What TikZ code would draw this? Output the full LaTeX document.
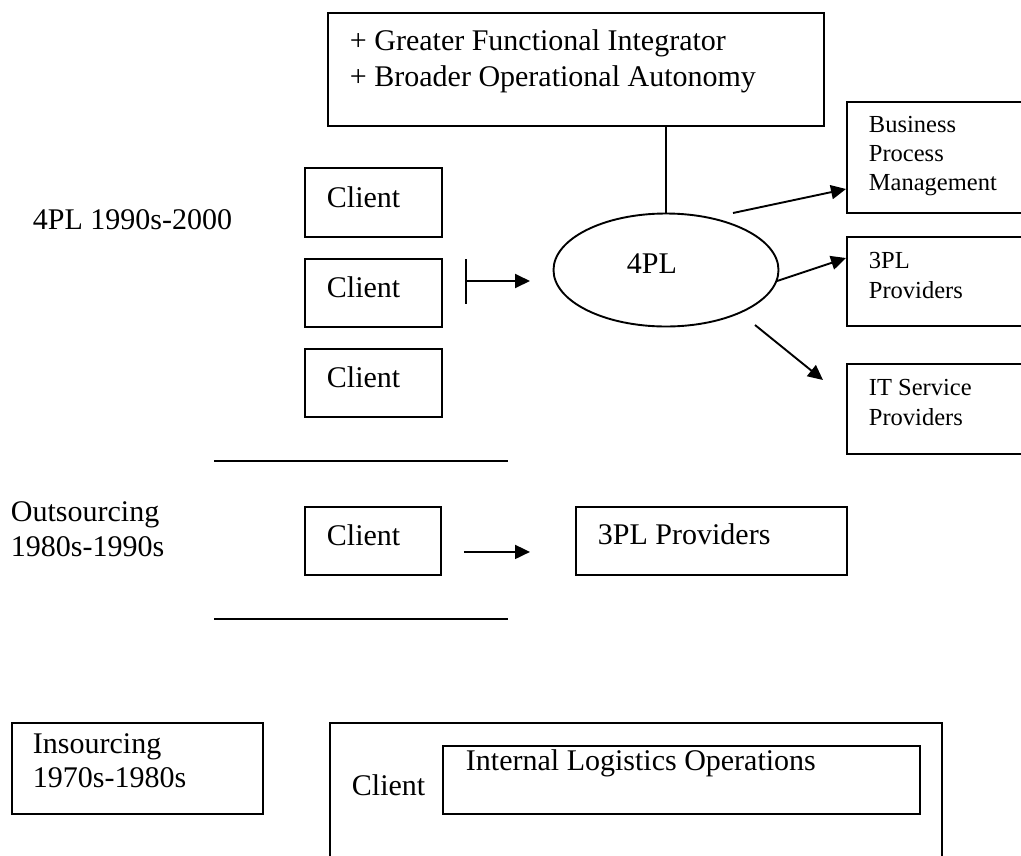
\documentclass[tikz,border=0pt]{standalone}
\usepackage{fontspec}
\setmainfont{Liberation Serif}
\usetikzlibrary{shapes.geometric,arrows.meta,calc}
\begin{document}
\begin{tikzpicture}[x=1pt,y=-1pt,line width=1.9pt,
  box/.style={draw,line width=1.9pt,anchor=north west,inner sep=0pt},
  txt/.style={anchor=base west,inner sep=0pt,align=left,font=\fontsize{30}{35}\selectfont},
  stxt/.style={anchor=base west,inner sep=0pt,align=left,font=\fontsize{24.5}{29}\selectfont},
  arr/.style={-{Triangle[length=15pt,width=14pt]}},
  teearr/.style={{Bar[width=45pt]}-{Triangle[length=15pt,width=14pt]}}
]
\useasboundingbox (0,0) rectangle (1021,855);
\clip (0,0) rectangle (1021,855);

% ---- 4PL era ----
\node[box,minimum width=496,minimum height=113] (top) at (327,12) {};
\node[txt] (toptxt) at (349,86) {+ Greater Functional Integrator\\[1pt]+ Broader Operational Autonomy};

\node[draw,ellipse,line width=1.9pt,minimum width=225,minimum height=113,inner sep=0pt] (ell) at (666,270) {};
\node[txt] (elltxt) at (626,273) {4PL};
\draw (ell.north) -- (ell.north |- top.south);

\node[txt] (era4) at (32,229) {4PL 1990s-2000};

\node[box,minimum width=137,minimum height=69] (c1) at (304,167) {};
\node[txt] (c1t) at (326,207) {Client};
\node[box,minimum width=137,minimum height=68] (c2) at (304,258) {};
\node[txt] (c2t) at (326,297) {Client};
\node[box,minimum width=137,minimum height=68] (c3) at (304,348) {};
\node[txt] (c3t) at (326,387) {Client};

\coordinate (ts) at ($(c2.north east)+(22,23)$);
\coordinate (te) at ($(ell.center)+(-136,11)$);
\draw[teearr] (ts) -- (te);

\node[box,minimum width=200,minimum height=111] (bpm) at (846,101) {};
\node[stxt] (bpmt) at (868,190) {Business\\Process\\Management};
\node[box,minimum width=200,minimum height=89] (p3) at (846,236) {};
\node[stxt] (p3t) at (868,298) {3PL\\[1pt]Providers};
\node[box,minimum width=200,minimum height=90] (it) at (846,363) {};
\node[stxt] (itt) at (868,425) {IT Service\\[1pt]Providers};

\coordinate (a1s) at ($(ell.center)+(67,-57)$);
\coordinate (a1e) at ($(bpm.north west)+(0,88)$);
\draw[arr] (a1s) -- (a1e);
\coordinate (a2s) at ($(ell.center)+(111,11)$);
\coordinate (a2e) at ($(p3.north west)+(0,22)$);
\draw[arr] (a2s) -- (a2e);
\coordinate (a3s) at ($(ell.center)+(89,55)$);
\coordinate (a3e) at ($(it.north west)+(-23,17)$);
\draw[arr] (a3s) -- (a3e);

% ---- Outsourcing era ----
\draw (214,461) -- (508,461);
\draw (214,619) -- (508,619);
\node[txt] (erao) at (10,556) {Outsourcing\\1980s-1990s};
\node[box,minimum width=136,minimum height=68] (co) at (304,506) {};
\node[txt] (cot) at (326,545) {Client};
\node[box,minimum width=271,minimum height=68] (p3o) at (575,506) {};
\node[txt] (p3ot) at (597,544) {3PL Providers};
\coordinate (os) at ($(co.east)+(22,11)$);
\coordinate (oe) at ($(p3o.west)+(-45,11)$);
\draw[arr] (os) -- (oe);

% ---- Insourcing era ----
\node[box,minimum width=251,minimum height=91] (ins) at (11,722) {};
\node[txt] (inst) at (32,787) {Insourcing\\[-1pt]1970s-1980s};
\node[box,minimum width=612,minimum height=200] (big) at (329,722) {};
\node[txt] (bigt) at (351,795) {Client};
\node[box,minimum width=477,minimum height=68] (ilo) at (442,745) {};
\node[txt] (ilot) at (465,770) {Internal Logistics Operations};
\end{tikzpicture}
\end{document}
